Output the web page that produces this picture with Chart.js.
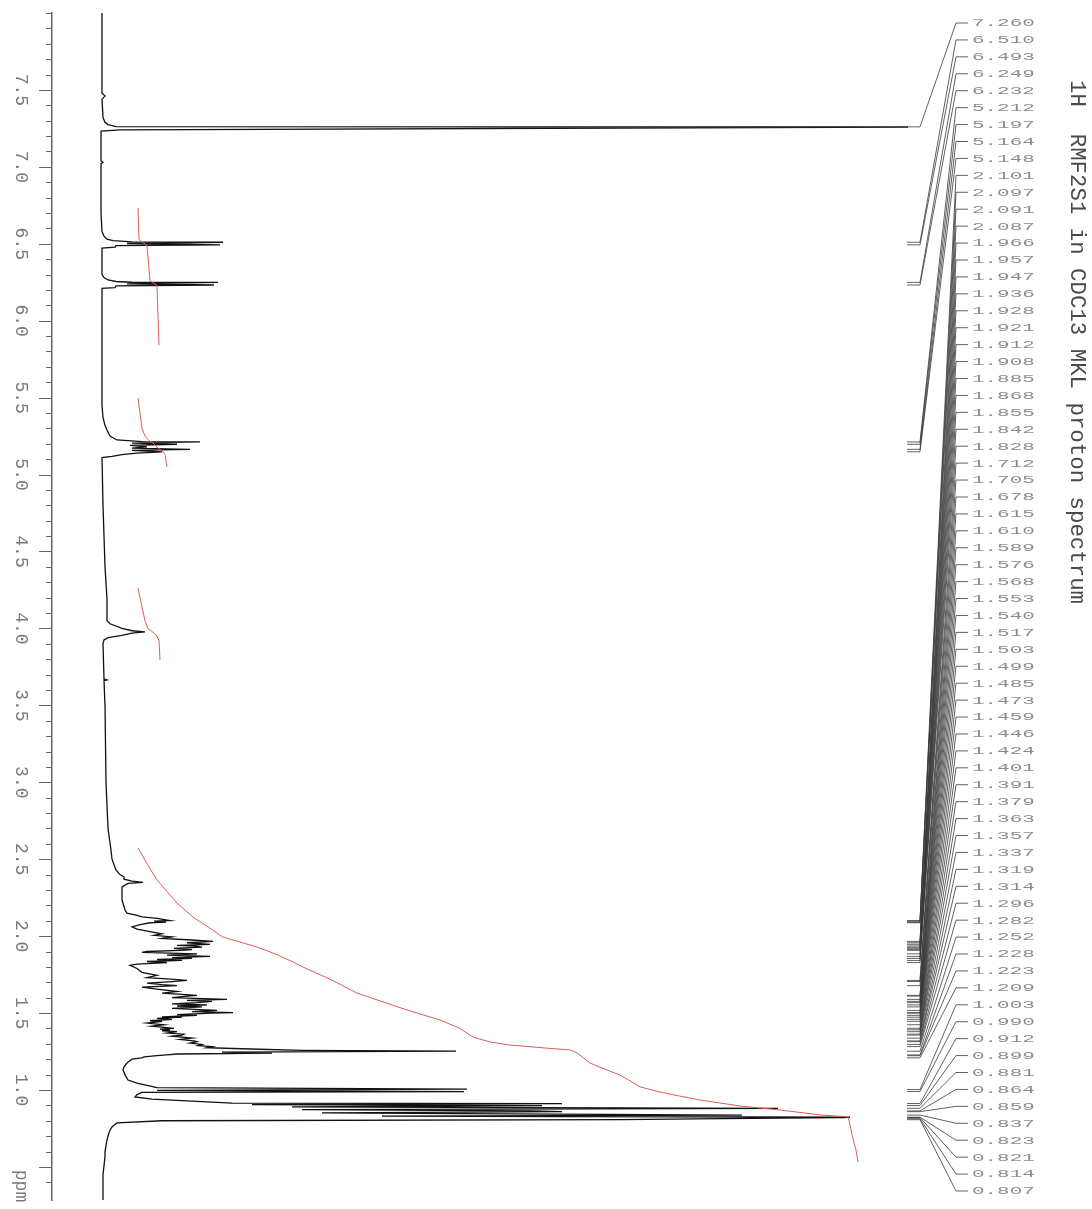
<!DOCTYPE html>
<html><head><meta charset="utf-8">
<script src="https://cdn.jsdelivr.net/npm/chart.js@4.4.1/dist/chart.umd.min.js"></script>
<style>html,body{margin:0;padding:0;background:#fff;}</style>
</head><body>
<canvas id="c" width="1092" height="1209"></canvas>
<script>
// ---- data ----
const chartTitle = '1H  RMF2S1 in CDC13 MKL proton spectrum';
const axisTitle = 'ppm';
const yTickValues = [7.5, 7.0, 6.5, 6.0, 5.5, 5.0, 4.5, 4.0, 3.5, 3.0, 2.5, 2.0, 1.5, 1.0];
const yTickLabels = ['7.5','7.0','6.5','6.0','5.5','5.0','4.5','4.0','3.5','3.0','2.5','2.0','1.5','1.0'];

const peakLabels = ['7.260','6.510','6.493','6.249','6.232','5.212','5.197','5.164','5.148',
 '2.101','2.097','2.091','2.087','1.966','1.957','1.947','1.936','1.928','1.921','1.912','1.908',
 '1.885','1.868','1.855','1.842','1.828','1.712','1.705','1.678','1.615','1.610','1.589','1.576',
 '1.568','1.553','1.540','1.517','1.503','1.499','1.485','1.473','1.459','1.446','1.424','1.401',
 '1.391','1.379','1.363','1.357','1.337','1.319','1.314','1.296','1.282','1.252','1.228','1.223',
 '1.209','1.003','0.990','0.912','0.899','0.881','0.864','0.859','0.837','0.823','0.821','0.814','0.807'];

// spectrum: [ppm, intensity]
const spectrum = [
 [8.00,0],[7.60,0],[7.48,0],[7.46,3],[7.44,0],[7.32,1],[7.29,3],[7.275,6],[7.262,14],[7.259,806],[7.240,18],[7.233,-1],
 [7.10,-1],[7.04,-1],[7.03,1],[7.02,-1],[6.70,-1],[6.58,0],[6.55,2],[6.53,5],[6.52,11],[6.512,30],[6.510,121],[6.502,25],
 [6.493,118],[6.488,14],[6.478,13],[6.472,0],[6.35,0],[6.30,0],[6.28,2],[6.265,6],[6.255,14],[6.250,30],[6.249,116],
 [6.240,25],[6.232,112],[6.226,14],[6.215,13],[6.210,0],[5.80,0],[5.45,0],[5.37,1],[5.32,3],[5.29,5],[5.25,8],[5.225,15],
 [5.214,40],[5.212,98],[5.205,30],[5.197,75],[5.19,28],[5.18,45],[5.172,30],[5.164,88],[5.157,30],[5.148,60],[5.140,35],
 [5.130,20],[5.118,10],[5.110,0],[4.80,1],[4.40,3],[4.19,5],[4.05,5],[4.03,8],[4.00,20],[3.985,30],[3.977,43],[3.97,30],
 [3.955,20],[3.94,6],[3.925,2],[3.90,1],[3.67,2],[3.665,5],[3.66,2],[3.50,3],[3.00,4],[2.70,6],[2.56,9],[2.50,10],
 [2.43,14],[2.40,18],[2.385,22],[2.37,22],[2.357,30],[2.350,41],[2.343,26],[2.32,20],[2.235,20],[2.17,23],[2.15,25],
 [2.135,35],[2.125,40],[2.115,55],[2.101,68],[2.097,52],[2.091,64],[2.087,48],[2.075,38],[2.06,30],[2.045,35],[2.03,48],
 [2.015,60],[2.005,52],[1.995,70],[1.985,60],[1.975,90],[1.966,111],[1.957,85],[1.947,108],[1.94,75],[1.936,92],
 [1.928,100],[1.921,72],[1.912,90],[1.908,78],[1.90,45],[1.895,40],[1.885,95],[1.876,65],[1.868,108],[1.86,70],
 [1.855,90],[1.848,55],[1.842,80],[1.835,45],[1.828,65],[1.818,35],[1.81,28],[1.79,35],[1.765,40],[1.745,55],[1.73,45],
 [1.722,65],[1.712,85],[1.705,70],[1.695,45],[1.685,60],[1.678,75],[1.668,40],[1.655,55],[1.64,75],[1.63,60],[1.615,95],
 [1.610,85],[1.60,70],[1.589,125],[1.582,85],[1.576,110],[1.568,95],[1.56,70],[1.553,105],[1.546,75],[1.540,100],
 [1.53,70],[1.517,115],[1.510,90],[1.503,131],[1.499,110],[1.49,75],[1.485,95],[1.475,60],[1.473,80],[1.466,55],
 [1.459,70],[1.45,48],[1.446,60],[1.435,45],[1.424,62],[1.415,50],[1.401,72],[1.395,58],[1.391,68],[1.385,60],
 [1.379,75],[1.37,65],[1.363,82],[1.357,80],[1.35,70],[1.337,90],[1.328,78],[1.319,92],[1.314,95],[1.305,88],
 [1.296,100],[1.288,96],[1.282,110],[1.275,105],[1.268,140],[1.258,200],[1.252,354],[1.246,120],[1.240,170],
 [1.234,75],[1.228,65],[1.223,55],[1.215,42],[1.209,40],[1.20,30],[1.175,25],[1.15,22],[1.13,21],[1.10,23],[1.065,26],
 [1.045,35],[1.030,45],[1.015,55],[1.006,365],[0.998,55],[0.990,362],[0.984,40],[0.97,35],[0.955,33],[0.94,50],
 [0.925,100],[0.915,130],[0.912,460],[0.905,150],[0.899,440],[0.89,190],[0.881,676],[0.872,200],[0.864,430],
 [0.859,460],[0.851,220],[0.837,640],[0.830,280],[0.823,748],[0.821,740],[0.814,620],[0.807,520],[0.800,60],
 [0.786,15],[0.76,10],[0.74,8],[0.70,6],[0.675,5],[0.60,3],[0.565,3],[0.45,1],[0.396,1],[0.285,1]
];

// integral traces: [ppm, integral value]
const integral1 = [[6.733,36],[6.53,37],[6.515,39],[6.50,43],[6.485,45],[6.26,48],[6.25,50],[6.235,54],[6.22,55],[5.842,57]];
const integral2 = [[5.498,36],[5.30,40],[5.25,43],[5.22,47],[5.20,52],[5.17,56],[5.15,61],[5.13,63],[5.05,65]];
const integral3 = [[4.263,36],[4.05,43],[4.00,46],[3.975,51],[3.95,55],[3.92,57],[3.795,58]];
const integral4 = [[2.573,36],[2.46,46],[2.365,55],[2.29,65],[2.215,75],[2.124,91],[2.06,106],[1.994,121],[1.929,155],
 [1.88,175],[1.832,191],[1.799,201],[1.72,228],[1.63,255],[1.57,282],[1.52,305],[1.455,338],[1.40,358],[1.344,371],
 [1.312,388],[1.292,408],[1.273,443],[1.260,468],[1.245,474],[1.227,478],[1.175,488],[1.135,503],[1.097,518],[1.06,528],
 [1.020,538],[0.987,558],[0.96,578],[0.935,598],[0.896,638],[0.870,678],[0.838,718],[0.825,746],[0.805,747],
 [0.708,750],[0.610,754],[0.532,756]];

// ---- drawing ----
const toXY = arr => arr.map(p => ({x: p[1], y: p[0]}));

const overlay = {
  id: 'overlay',
  afterDraw(chart) {
    const ctx = chart.ctx;
    const ys = chart.scales.y;
    const left = chart.chartArea.left;
    ctx.save();
    // tick marks from the library's generated ticks
    ctx.strokeStyle = '#666';
    ctx.lineWidth = 1;
    ys.ticks.forEach(t => {
      const v = t.value;
      if (Math.abs(v * 10 - Math.round(v * 10)) > 1e-6) return;
      const major = Math.abs(v * 2 - Math.round(v * 2)) < 1e-6 && v < 7.9;
      const y = Math.round(ys.getPixelForValue(v)) + 0.5;
      ctx.beginPath();
      ctx.moveTo(left - (major ? 13 : 6), y);
      ctx.lineTo(left, y);
      ctx.stroke();
    });
    // rotated tick labels
    ctx.fillStyle = '#7a7a7a';
    ctx.font = '18px "Liberation Mono"';
    ctx.textAlign = 'center';
    ctx.textBaseline = 'middle';
    yTickValues.forEach((v, i) => {
      const y = ys.getPixelForValue(v);
      ctx.save();
      ctx.translate(21, y);
      ctx.rotate(Math.PI / 2);
      ctx.fillText(yTickLabels[i], 0, 0);
      ctx.restore();
    });
    ctx.save();
    ctx.translate(21, chart.chartArea.bottom - 14);
    ctx.rotate(Math.PI / 2);
    ctx.fillText(axisTitle, 0, 0);
    ctx.restore();

    // peak label leaders and texts
    const n = peakLabels.length;
    const firstY = 23, lastY = 1191;
    const step = (lastY - firstY) / (n - 1);
    ctx.strokeStyle = '#3a3a3a';
    ctx.lineWidth = 0.8;
    peakLabels.forEach((lab, i) => {
      const py = ys.getPixelForValue(parseFloat(lab));
      const ly = firstY + i * step;
      ctx.beginPath();
      ctx.moveTo(907, py);
      ctx.lineTo(920, py);
      ctx.lineTo(956, ly);
      ctx.lineTo(968, ly);
      ctx.stroke();
    });
    ctx.fillStyle = '#8c8c8c';
    ctx.font = '11px "Liberation Mono"';
    ctx.textAlign = 'left';
    ctx.textBaseline = 'middle';
    peakLabels.forEach((lab, i) => {
      const ly = firstY + i * step;
      ctx.save();
      ctx.translate(972, ly + 0.5);
      ctx.scale(1.9, 1);
      ctx.fillText(lab, 0, 0);
      ctx.restore();
    });

    // title
    ctx.save();
    ctx.translate(1077, 80);
    ctx.rotate(Math.PI / 2);
    ctx.font = '22.4px "Liberation Mono"';
    ctx.fillStyle = '#4a4a4a';
    ctx.textAlign = 'left';
    ctx.textBaseline = 'middle';
    ctx.fillText(chartTitle, 0, 0);
    ctx.restore();
    ctx.restore();
  }
};

const red = '#e05a5a';
const lineDs = (arr, color, w) => ({data: toXY(arr), showLine: true, borderColor: color, borderWidth: w,
  pointRadius: 0, pointHoverRadius: 0, tension: 0, fill: false});

new Chart(document.getElementById('c'), {
  type: 'scatter',
  data: {datasets: [
    lineDs(integral1, red, 1), lineDs(integral2, red, 1), lineDs(integral3, red, 1), lineDs(integral4, red, 1),
    lineDs(spectrum, '#111', 1.3)
  ]},
  options: {
    responsive: false,
    animation: false,
    events: [],
    layout: {padding: {top: 13, bottom: 9, left: 0, right: 0}},
    plugins: {legend: {display: false}, tooltip: {enabled: false}},
    scales: {
      x: {type: 'linear', min: -50, max: 990, display: false},
      y: {type: 'linear', min: 0.285, max: 8.0, position: 'left',
          afterFit(s) { s.width = 52; },
          grid: {display: false},
          border: {display: true, color: '#666', width: 1.5},
          ticks: {display: false, stepSize: 0.1, maxTicksLimit: 200, autoSkip: false, font: {size: 8}}}
    }
  },
  plugins: [overlay]
});
</script>
</body></html>
